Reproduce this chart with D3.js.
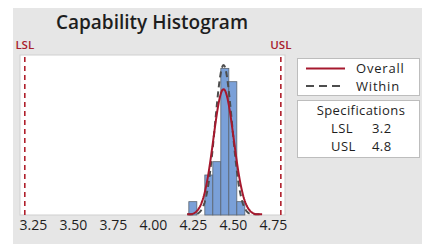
<!DOCTYPE html>
<html>
<head>
<meta charset="utf-8">
<script src="https://cdn.jsdelivr.net/npm/d3@7"></script>
<style>
  body { margin: 0; background: #fff; }
  svg { display: block; font-family: "Open Sans", "Noto Sans", sans-serif; }
</style>
</head>
<body>
<div id="graph"></div>
<script>
let width = 422;
let height = 244;

// histogram bins (midpoints, width 0.05) and counts
var binMids = [4.25, 4.30, 4.35, 4.40, 4.45, 4.50, 4.55];
var binCounts = [1, 0, 3, 4, 11, 10, 1];
var binWidth = 0.05;

var xTicks = [3.25, 3.50, 3.75, 4.00, 4.25, 4.50, 4.75];

// fitted normal curves
var fitMean = 4.442;
var sigmaOverall = 0.0634;
var sigmaWithin = 0.0532;

var lsl = 3.2;
var usl = 4.8;

var specLabels = ["LSL", "USL"];
var specValues = ["3.2", "4.8"];

let svg = d3.select('#graph')
  .append('svg')
  .attr('width', width)
  .attr('height', height);

svg.append('rect')
  .attr('x', 13).attr('y', 8)
  .attr('width', width - 13).attr('height', height - 8)
  .attr('fill', '#e6e6e6');

let plot = { left: 20, right: 285, top: 55, bottom: 215 };

let x = d3.scaleLinear()
  .domain([3.17, 4.826])
  .range([plot.left, plot.right]);

let y = d3.scaleLinear()
  .domain([0, 12])
  .range([plot.bottom, plot.bottom - 12 * 13.33]);

svg.append('rect')
  .attr('x', plot.left).attr('y', plot.top)
  .attr('width', plot.right - plot.left).attr('height', plot.bottom - plot.top)
  .attr('fill', '#fff')
  .attr('stroke', '#cfcfcf');

// title
svg.append('text')
  .attr('x', 152).attr('y', 29)
  .attr('text-anchor', 'middle')
  .attr('font-size', 19)
  .attr('font-weight', 600)
  .attr('fill', '#1e1e1e')
  .text('Capability Histogram');

// bars
svg.selectAll('rect.bar')
  .data(binMids.map((m, i) => ({ mid: m, count: binCounts[i] })).filter(d => d.count > 0))
  .enter()
  .append('rect')
  .attr('class', 'bar')
  .attr('x', d => x(d.mid - binWidth / 2))
  .attr('width', d => x(d.mid + binWidth / 2) - x(d.mid - binWidth / 2))
  .attr('y', d => y(d.count))
  .attr('height', d => y(0) - y(d.count))
  .attr('fill', '#7aa0d8')
  .attr('stroke', '#5a6470')
  .attr('stroke-width', 0.8);

// spec limits
[[lsl, 'LSL'], [usl, 'USL']].forEach(function(s) {
  svg.append('line')
    .attr('x1', x(s[0])).attr('x2', x(s[0]))
    .attr('y1', plot.top + 2).attr('y2', plot.bottom)
    .attr('stroke', '#b0202c')
    .attr('stroke-width', 1.6)
    .attr('stroke-dasharray', '5,4');
  svg.append('text')
    .attr('x', x(s[0])).attr('y', 49)
    .attr('text-anchor', 'middle')
    .attr('font-size', 11.5)
    .attr('font-weight', 600)
    .attr('fill', '#a8202c')
    .text(s[1]);
});

// normal curves
let n = d3.sum(binCounts);
let pts = d3.range(4.215, 4.685, 0.004);
let curve = function(sigma) {
  return pts.map(v => [v, n * binWidth * Math.exp(-0.5 * Math.pow((v - fitMean) / sigma, 2)) / (sigma * Math.sqrt(2 * Math.PI))]);
};
let line = d3.line().x(d => x(d[0])).y(d => Math.min(y(d[1]), plot.bottom - 0.8));

svg.append('path')
  .datum(curve(sigmaWithin))
  .attr('d', line)
  .attr('fill', 'none')
  .attr('stroke', '#4d4d4d')
  .attr('stroke-width', 2)
  .attr('stroke-dasharray', '6,4');

svg.append('path')
  .datum(curve(sigmaOverall))
  .attr('d', line)
  .attr('fill', 'none')
  .attr('stroke', '#a6192e')
  .attr('stroke-width', 2);

// x axis labels
let axis = svg.append('g')
  .attr('transform', 'translate(0,' + plot.bottom + ')')
  .call(d3.axisBottom(x).tickValues(xTicks).tickFormat(d3.format('.2f')).tickSize(0).tickPadding(5));
axis.select('.domain').remove();
axis.selectAll('text')
  .attr('font-size', 14)
  .attr('font-family', '"Open Sans", "Noto Sans", sans-serif')
  .attr('fill', '#1e1e1e');

// legend box
svg.append('rect')
  .attr('x', 297.5).attr('y', 58.5).attr('width', 122).attr('height', 37)
  .attr('fill', '#fff').attr('stroke', '#bdbdbd');
svg.append('line')
  .attr('x1', 306).attr('x2', 345).attr('y1', 68.5).attr('y2', 68.5)
  .attr('stroke', '#a6192e').attr('stroke-width', 2);
svg.append('line')
  .attr('x1', 306).attr('x2', 345).attr('y1', 86).attr('y2', 86)
  .attr('stroke', '#4d4d4d').attr('stroke-width', 2).attr('stroke-dasharray', '8,5');
svg.append('text')
  .attr('x', 356).attr('y', 72.5).attr('font-size', 13).attr('letter-spacing', 0.8).attr('fill', '#1e1e1e')
  .text('Overall');
svg.append('text')
  .attr('x', 356).attr('y', 90.5).attr('font-size', 13).attr('letter-spacing', 0.8).attr('fill', '#1e1e1e')
  .text('Within');

// specifications box
svg.append('rect')
  .attr('x', 297.5).attr('y', 100.5).attr('width', 122).attr('height', 57)
  .attr('fill', '#fff').attr('stroke', '#bdbdbd');
svg.append('text')
  .attr('x', 361).attr('y', 114.5).attr('text-anchor', 'middle')
  .attr('font-size', 13).attr('letter-spacing', 0.4).attr('fill', '#1e1e1e')
  .text('Specifications');
specLabels.forEach(function(lab, i) {
  svg.append('text')
    .attr('x', 331).attr('y', 133 + i * 18)
    .attr('font-size', 13).attr('letter-spacing', 0.4).attr('fill', '#1e1e1e')
    .text(lab);
  svg.append('text')
    .attr('x', 372).attr('y', 133 + i * 18)
    .attr('font-size', 13).attr('letter-spacing', 0.4).attr('fill', '#1e1e1e')
    .text(specValues[i]);
});
</script>
</body>
</html>
